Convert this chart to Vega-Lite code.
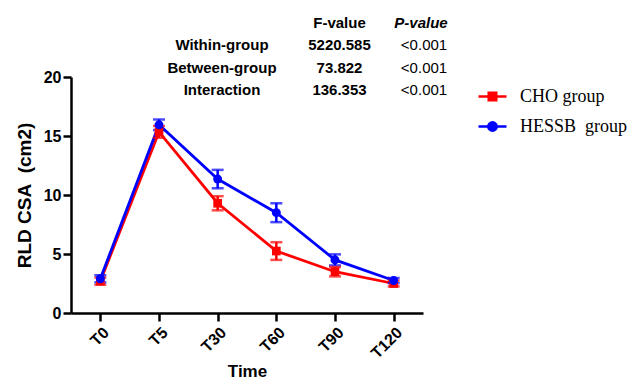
{
  "$schema": "https://vega.github.io/schema/vega-lite/v6.json",
  "autosize": {"type": "none"},
  "width": 352,
  "height": 236,
  "padding": {"left": 71, "top": 77, "right": 210, "bottom": 70},
  "background": "white",
  "datasets": {
    "series": [
      {"group": "CHO group", "time": "T0", "mean": 2.7, "err": 0.3},
      {"group": "CHO group", "time": "T5", "mean": 15.35, "err": 0.5},
      {"group": "CHO group", "time": "T30", "mean": 9.3, "err": 0.6},
      {"group": "CHO group", "time": "T60", "mean": 5.25, "err": 0.75},
      {"group": "CHO group", "time": "T90", "mean": 3.5, "err": 0.4},
      {"group": "CHO group", "time": "T120", "mean": 2.5, "err": 0.25},
      {"group": "HESSB\u00a0 group", "time": "T0", "mean": 2.9, "err": 0.3},
      {"group": "HESSB\u00a0 group", "time": "T5", "mean": 15.95, "err": 0.45},
      {"group": "HESSB\u00a0 group", "time": "T30", "mean": 11.35, "err": 0.78},
      {"group": "HESSB\u00a0 group", "time": "T60", "mean": 8.5, "err": 0.8},
      {"group": "HESSB\u00a0 group", "time": "T90", "mean": 4.5, "err": 0.47},
      {"group": "HESSB\u00a0 group", "time": "T120", "mean": 2.75, "err": 0.22}
    ],
    "stats": [
      {"row": "header", "col": "F", "text": "F-value"},
      {"row": "header", "col": "P", "text": "P-value"},
      {"row": "Within-group", "col": "Source", "text": "Within-group"},
      {"row": "Within-group", "col": "F", "text": "5220.585"},
      {"row": "Within-group", "col": "P", "text": "<0.001"},
      {"row": "Between-group", "col": "Source", "text": "Between-group"},
      {"row": "Between-group", "col": "F", "text": "73.822"},
      {"row": "Between-group", "col": "P", "text": "<0.001"},
      {"row": "Interaction", "col": "Source", "text": "Interaction"},
      {"row": "Interaction", "col": "F", "text": "136.353"},
      {"row": "Interaction", "col": "P", "text": "<0.001"}
    ]
  },
  "layer": [
    {
      "data": {"name": "series"},
      "encoding": {
        "x": {
          "field": "time",
          "type": "nominal",
          "sort": ["T0", "T5", "T30", "T60", "T90", "T120"],
          "scale": {"type": "point", "padding": 0.5},
          "axis": {
            "title": "Time",
            "labelAngle": -45,
            "labelFont": "Liberation Sans",
            "labelFontWeight": "bold",
            "labelFontSize": 16,
            "labelColor": "black",
            "labelPadding": 3,
            "titleFont": "Liberation Sans",
            "titleFontWeight": "bold",
            "titleFontSize": 17,
            "titleColor": "black",
            "titlePadding": 2,
            "tickSize": 8,
            "tickWidth": 2.5,
            "tickColor": "black",
            "domainWidth": 2.5,
            "domainColor": "black",
            "grid": false
          }
        },
        "y": {
          "field": "mean",
          "type": "quantitative",
          "scale": {"domain": [0, 20], "nice": false},
          "axis": {
            "title": "RLD CSA\u00a0 (cm2)",
            "values": [0, 5, 10, 15, 20],
            "labelFont": "Liberation Sans",
            "labelFontWeight": "bold",
            "labelFontSize": 16,
            "labelColor": "black",
            "labelPadding": 2,
            "titleFont": "Liberation Sans",
            "titleFontWeight": "bold",
            "titleFontSize": 19,
            "titleColor": "black",
            "titlePadding": 9,
            "tickSize": 8,
            "tickWidth": 2.5,
            "tickColor": "black",
            "domainWidth": 2.5,
            "domainColor": "black",
            "grid": false
          }
        },
        "color": {
          "field": "group",
          "type": "nominal",
          "scale": {"domain": ["CHO group", "HESSB\u00a0 group"], "range": ["#ff0000", "#0000ff"]},
          "legend": {
            "title": null,
            "orient": "none",
            "legendX": 406,
            "legendY": 4,
            "labelFont": "Liberation Serif",
            "labelFontSize": 18,
            "labelColor": "black",
            "labelOffset": 12,
            "symbolSize": 784,
            "rowPadding": 5,
            "encode": {
              "symbols": {
                "update": {
                  "shape": {"signal": "datum.value === 'CHO group' ? 'M-1,0H1M-0.27,-0.27H0.27V0.27H-0.27Z' : 'M-1,0H1M0.3,0A0.3,0.3,0,1,1,-0.3,0A0.3,0.3,0,1,1,0.3,0Z'"},
                  "fill": {"signal": "datum.value === 'CHO group' ? '#ff0000' : '#0000ff'"},
                  "stroke": {"signal": "datum.value === 'CHO group' ? '#ff0000' : '#0000ff'"},
                  "strokeWidth": {"value": 2.5},
                  "size": {"value": 784},
                  "opacity": {"value": 1},
                  "fillOpacity": {"value": 1},
                  "strokeOpacity": {"value": 1}
                }
              }
            }
          }
        }
      },
      "layer": [
        {"mark": {"type": "line", "strokeWidth": 2.8}},
        {
          "mark": {"type": "errorbar", "thickness": 2.5, "ticks": {"size": 12, "thickness": 2.5}},
          "encoding": {"yError": {"field": "err"}}
        },
        {
          "transform": [{"filter": "datum.group === 'CHO group'"}],
          "mark": {"type": "point", "shape": "square", "filled": true, "size": 75, "opacity": 1}
        },
        {
          "transform": [{"filter": "datum.group !== 'CHO group'"}],
          "mark": {"type": "point", "shape": "circle", "filled": true, "size": 80, "opacity": 1}
        }
      ]
    },
    {
      "data": {"name": "stats"},
      "encoding": {
        "x": {
          "field": "col",
          "type": "nominal",
          "scale": {"type": "point", "domain": ["Source", "F", "P"], "range": [151, 352], "padding": 0},
          "axis": null
        },
        "y": {
          "field": "row",
          "type": "nominal",
          "scale": {"type": "point", "domain": ["header", "Within-group", "Between-group", "Interaction"], "range": [-54, 13], "padding": 0},
          "axis": null
        },
        "text": {"field": "text"}
      },
      "layer": [
        {
          "transform": [{"filter": "datum.col === 'Source'"}],
          "mark": {"type": "text", "font": "Liberation Sans", "fontWeight": "bold", "fontSize": 15, "color": "black", "align": "center", "baseline": "middle"}
        },
        {
          "transform": [{"filter": "datum.col === 'F'"}],
          "mark": {"type": "text", "font": "Liberation Sans", "fontWeight": "bold", "fontSize": 15, "color": "black", "align": "center", "baseline": "middle", "dx": 17}
        },
        {
          "transform": [{"filter": "datum.col === 'P' && datum.row === 'header'"}],
          "mark": {"type": "text", "font": "Liberation Sans", "fontWeight": "bold", "fontStyle": "italic", "fontSize": 15, "color": "black", "align": "center", "baseline": "middle", "dx": -2}
        },
        {
          "transform": [{"filter": "datum.col === 'P' && datum.row !== 'header'"}],
          "mark": {"type": "text", "font": "Liberation Sans", "fontSize": 15, "color": "black", "align": "center", "baseline": "middle", "dx": 1}
        }
      ]
    }
  ],
  "resolve": {"scale": {"x": "independent", "y": "independent"}},
  "config": {"view": {"stroke": null}}
}
